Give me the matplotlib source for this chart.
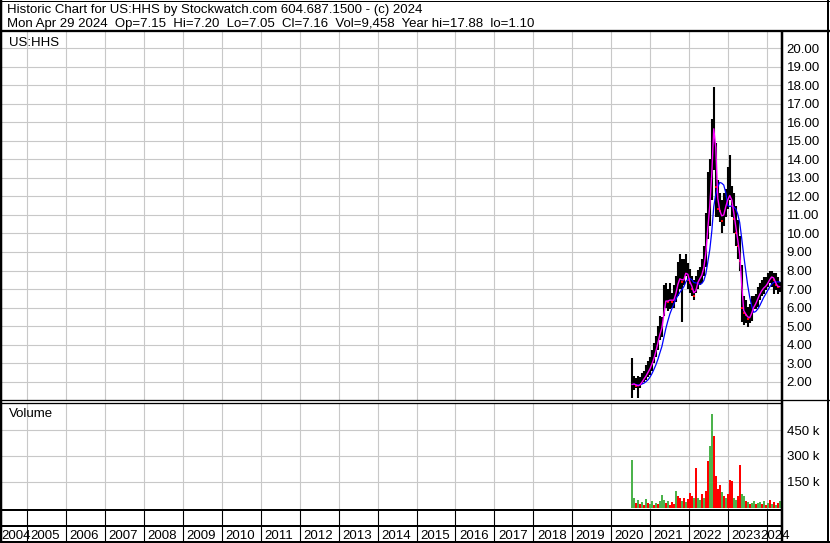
import matplotlib
matplotlib.use('Agg')
import matplotlib.pyplot as plt
from matplotlib.lines import Line2D
import numpy as np
import pandas as pd

plt.rcParams['font.family'] = ['Liberation Sans', 'DejaVu Sans']

# US:HHS, roughly one bar every ~19 days, Jul 2020 .. Apr 2024
hi = [3.3, 2.3, 2.2, 2.3, 2.25, 2.45, 2.6, 2.9, 3.1, 3.35,
      3.7, 4.1, 4.45, 5.0, 5.55, 5.5, 7.2, 7.35, 7.0, 7.35,
      6.8, 7.2, 7.7, 8.45, 8.9, 8.6, 8.6, 8.9, 8.4, 8.1,
      7.7, 7.5, 7.7, 8.05, 8.2, 8.6, 9.3, 11.1, 13.3, 14.0,
      16.2, 17.88, 14.9, 12.9, 12.2, 11.8, 12.2, 12.4, 13.6, 14.25,
      12.55, 12.2, 11.5, 10.75, 9.85, 8.3, 6.6, 6.4, 6.05, 6.2,
      6.6, 6.6, 6.75, 7.1, 7.3, 7.5, 7.65, 7.65, 7.85, 8.0,
      8.0, 7.85, 7.85, 7.65, 7.4]
lo = [1.1, 1.55, 1.65, 1.1, 1.65, 1.9, 2.0, 2.1, 2.25, 2.35,
      2.6, 3.0, 3.35, 3.7, 4.25, 4.4, 5.55, 6.0, 5.8, 5.9,
      6.0, 6.0, 6.3, 6.65, 7.0, 5.2, 7.2, 7.7, 7.0, 6.8,
      6.6, 6.4, 6.8, 7.0, 7.2, 7.3, 7.7, 8.2, 9.7, 10.4,
      11.8, 13.45, 10.9, 10.9, 10.6, 10.0, 10.4, 10.9, 11.3, 11.8,
      10.9, 10.0, 9.3, 8.6, 8.0, 5.2, 5.05, 5.15, 4.97, 5.15,
      5.3, 5.9, 5.9, 6.05, 6.4, 6.6, 6.75, 6.95, 7.1, 7.3,
      7.1, 6.75, 6.95, 6.75, 6.85]
cl = [1.85, 1.9, 1.75, 1.8, 1.85, 2.1, 2.2, 2.4, 2.6, 2.8,
      3.1, 3.4, 3.9, 4.3, 4.8, 5.0, 6.3, 6.4, 6.3, 6.5,
      6.3, 6.5, 7.0, 7.5, 7.6, 7.4, 7.6, 8.1, 7.5, 7.3,
      7.0, 6.6, 7.2, 7.5, 7.6, 7.9, 8.4, 9.5, 11.0, 12.0,
      14.5, 16.8, 12.5, 11.3, 11.2, 10.7, 11.3, 11.6, 12.0, 12.1,
      11.5, 10.8, 10.0, 9.3, 8.5, 6.0, 5.7, 5.6, 5.4, 5.5,
      5.9, 6.1, 6.3, 6.6, 6.8, 7.0, 7.1, 7.2, 7.4, 7.6,
      7.7, 7.5, 7.2, 7.1, 7.16]
vol = [275, 58, 30, 45, 25, 35, 20, 54, 30, 25,
       38, 20, 30, 25, 40, 73, 48, 30, 40, 20,
       35, 25, 100, 67, 55, 40, 60, 35, 50, 87,
       70, 60, 231, 60, 45, 80, 60, 100, 269, 356,
       540, 413, 183, 110, 135, 90, 70, 60, 80, 164,
       154, 60, 45, 70, 246, 80, 70, 40, 35, 25,
       30, 40, 25, 30, 35, 25, 40, 20, 30, 48,
       25, 35, 20, 30, 40]  # thousands of shares
# g = up bar, r = down bar, as coloured on the volume panel
vol_dir = ('ggrgrgrgrg' 'grgrgggrgr'
           'rrgrrgrgrr' 'rgrggrgrrg'
           'grrrrgrgrr' 'rggrrggrgr'
           'ggrggrgrgr' 'grgrg')

years = list(range(2004, 2025))

dates = pd.date_range('2020-07-15', '2024-04-29', periods=len(cl))
t = np.array(dates.year + (dates.dayofyear - 1) / 365.25)
close = pd.Series(cl)
ma_short = close.rolling(2, min_periods=1).mean()
ma_long = close.rolling(7, min_periods=2).mean()
dn = np.r_[False, np.diff(cl) < 0]

W, H = 830, 543
FS = 9.55
fig = plt.figure(figsize=(W / 100, H / 100), dpi=100)
fig.patch.set_facecolor('white')

XMIN, XMAX = 2004.353, 2024.36


def pline(x0, y0, x1, y1, lw):
    fig.add_artist(Line2D([x0 / W, x1 / W], [1 - y0 / H, 1 - y1 / H],
                          transform=fig.transFigure, lw=lw * 0.72,
                          color='black', solid_capstyle='butt'))


def style(ax):
    for s in ax.spines.values():
        s.set_visible(False)
    ax.set_xlim(XMIN, XMAX)
    ax.set_xticks(years[1:])
    ax.set_xticklabels([])
    ax.tick_params(axis='both', length=0, labelsize=FS, pad=4.0)
    ax.yaxis.tick_right()
    ax.grid(True, color='#c8c8c8', lw=0.8)
    ax.set_axisbelow(True)


# price panel
ax_p = fig.add_axes([2 / W, 1 - 400 / H, 779 / W, 369 / H])
style(ax_p)
ax_p.set_ylim(1.01, 20.93)
ax_p.set_yticks(range(2, 21))
ax_p.set_yticklabels(['%.2f' % v for v in range(2, 21)])
ax_p.vlines(t, lo, hi, color='black', lw=1.5)
ax_p.plot(t[dn], np.array(cl)[dn], 's', color='#ff0000', ms=1.7, mew=0)
ax_p.plot(t, ma_long, color='#0000ff', lw=0.9)
ax_p.plot(t, ma_short, color='#ff00ff', lw=1.0)
fig.text(9 / W, 1 - 46 / H, 'US:HHS', fontsize=FS, va='baseline')

# volume panel
ax_v = fig.add_axes([2 / W, 1 - 509 / H, 779 / W, 106 / H])
style(ax_v)
ax_v.set_ylim(-5.8, 605.8)
ax_v.set_yticks([150, 300, 450])
ax_v.set_yticklabels(['150 k', '300 k', '450 k'])
vcol = ['#4cb34c' if c == 'g' else '#ff0000' for c in vol_dir]
ax_v.bar(t, vol, width=0.052, color=vcol, lw=0)
fig.text(9 / W, 1 - 417.3 / H, 'Volume', fontsize=FS, va='baseline')

# year strip
ax_y = fig.add_axes([2 / W, 0, 779 / W, 34 / H])
ax_y.set_xlim(XMIN, XMAX)
ax_y.set_ylim(0, 34)
ax_y.axis('off')
ax_y.vlines(years[1:], 0, 34, color='black', lw=0.8)
pxy = 779 / (XMAX - XMIN)
for y in years:
    if y == 2004:
        ax_y.text(XMIN - 1 / pxy, 3.7, str(y), ha='left', va='baseline',
                  fontsize=FS, clip_on=False)
    elif y == 2024:
        ax_y.text(y - 7 / pxy, 3.7, str(y), ha='left', va='baseline',
                  fontsize=FS, clip_on=False)
    else:
        ax_y.text(y + 3.5 / pxy, 3.7, str(y), ha='left', va='baseline',
                  fontsize=FS, clip_on=False)

# header
fig.text(7 / W, 1 - 13.3 / H,
         'Historic Chart for US:HHS by Stockwatch.com 604.687.1500 - (c) 2024',
         fontsize=FS, va='baseline')
fig.text(7 / W, 1 - 27.3 / H,
         'Mon Apr 29 2024  Op=7.15  Hi=7.20  Lo=7.05  Cl=7.16  Vol=9,458  Year hi=17.88  lo=1.10',
         fontsize=FS, va='baseline')

# frame lines
pline(0, 0.5, W, 0.5, 1)
pline(1.2, 0, 1.2, H, 2.5)
pline(828, 0, 828, H, 2)
pline(0, 542, W, 542, 2)
pline(0, 30.5, W, 30.5, 2.3)
pline(781.5, 30.5, 781.5, H, 2.5)
pline(0, 400.2, W, 400.2, 1.3)
pline(0, 403, 781, 403, 1.3)
pline(0, 509.6, 781, 509.6, 2)
pline(0, 526, 781, 526, 2)

fig.savefig('out.png', dpi=100, facecolor='white')
